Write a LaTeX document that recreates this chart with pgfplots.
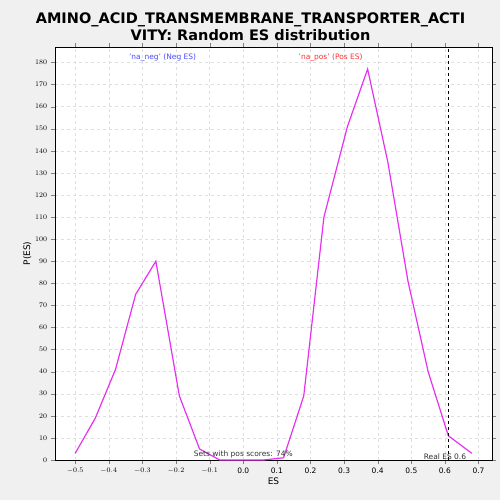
\documentclass[border=0pt]{standalone}
\usepackage{pgfplots}
\pgfplotsset{compat=1.18}
\usepackage{fontspec}
\setmainfont{DejaVu Sans}
\definecolor{lc}{RGB}{230,50,240}
\begin{document}
\begin{tikzpicture}
\fill[gray!12] (-55pt,-40pt) rectangle (445pt,460pt);
\begin{axis}[at={(0,0)},anchor=south west,
 width=437pt,height=413pt,scale only axis,
 xmin=-0.56,xmax=0.74,ymin=0,ymax=187,
 axis background/.style={fill=white},
 xtick={-0.5,-0.4,...,0.7},
 xticklabels={$-0.5$,$-0.4$,$-0.3$,$-0.2$,$-0.1$,0.0,0.1,0.2,0.3,0.4,0.5,0.6,0.7},
 ytick={0,10,...,180},
 tick label style={font=\fontsize{7.5}{8}\selectfont},
 grid=major,grid style={dashed,gray!25},
 xlabel={ES},ylabel={P(ES)},
 label style={font=\small},
 xlabel style={yshift=3pt},ylabel style={yshift=-3pt},
 title style={font=\bfseries\fontsize{14.5}{17}\selectfont,align=center,yshift=-3pt,xshift=-23pt},
 title={AMINO\_ACID\_TRANSMEMBRANE\_TRANSPORTER\_ACTI\\VITY: Random ES distribution},
 tick align=outside]
\addplot[lc,very thick] coordinates {
(-0.5,3)(-0.44,19)(-0.38,41)(-0.32,75)(-0.26,90)(-0.19,29)(-0.13,5)(-0.07,0)(0,0)(0.06,0)(0.12,1)(0.18,29)(0.24,110)(0.31,151)(0.37,177)(0.43,135)(0.49,81)(0.55,40)(0.61,11)(0.68,3)};
\draw[thick,dashed] (axis cs:0.61,0) -- (axis cs:0.61,187);
\node[font=\fontsize{7.5}{8}\selectfont,text=blue!70] at (axis cs:-0.24,182) {'na\_neg' (Neg ES)};
\node[font=\fontsize{7.5}{8}\selectfont,text=red!80] at (axis cs:0.26,182) {'na\_pos' (Pos ES)};
\node[font=\fontsize{7.5}{8}\selectfont,text=gray!40!black] at (axis cs:0,2.5) {Sets with pos scores: 74\%};
\node[font=\fontsize{7.5}{8}\selectfont,text=gray!40!black] at (axis cs:0.6,1.5) {Real ES 0.6};
\end{axis}
\end{tikzpicture}
\end{document}
